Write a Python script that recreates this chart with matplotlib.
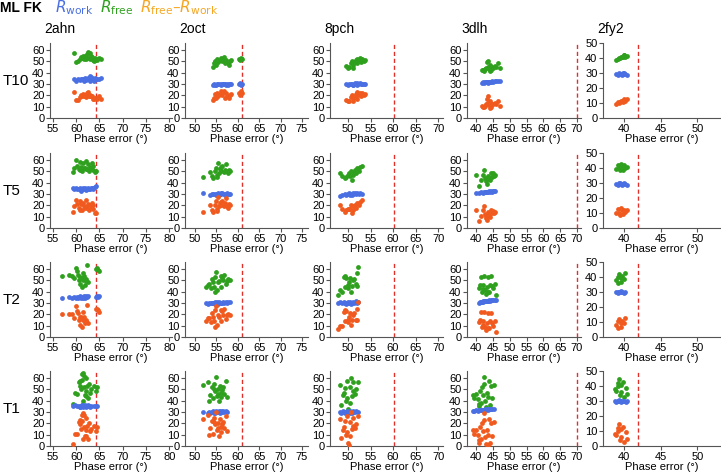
import numpy as np
import matplotlib
matplotlib.use("Agg")
from matplotlib import pyplot as plt

plt.rcParams['font.family'] = ['Liberation Sans', 'DejaVu Sans']

proteins = ['2ahn', '2oct', '8pch', '3dlh', '2fy2']
rows = ['T10', 'T5', 'T2', 'T1']
cutoff = [64.2, 61.0, 60.3, 70.0, 42.0]      # dashed line, phase error
xticks = [[55, 60, 65, 70, 75, 80], [50, 55, 60, 65, 70, 75], [50, 55, 60, 65, 70],
          [40, 45, 50, 55, 60, 65, 70], [40, 45, 50]]
yticks = [[0, 10, 20, 30, 40, 50, 60]] * 4 + [[0, 10, 20, 30, 40, 50]]

# ---- 2ahn ----
x_2ahn_t10 = [59.6, 60.0, 60.3, 60.8, 61.0, 61.3, 61.6, 61.8, 62.0, 62.2, 62.4, 62.6, 62.8, 63.0, 63.2, 63.4, 63.6, 63.8, 64.0, 64.2, 64.5, 65.0, 65.4, 61.4, 62.9]
rw_2ahn_t10 = [34, 33, 34, 33.5, 34, 34, 33, 35, 34, 33.5, 34, 35, 34, 33, 36, 35, 34, 33, 35, 34, 34, 34, 35, 34, 37]
rf_2ahn_t10 = [57, 49, 50, 52, 54, 53, 52, 55, 54, 52, 56, 58, 53, 52, 55, 54, 51, 50, 53, 52, 51, 53, 52, 55, 57]
x_2ahn_t5 = [59.2, 59.6, 60.0, 60.2, 60.5, 60.8, 61.0, 61.2, 61.5, 61.7, 62.0, 62.2, 62.5, 62.7, 63.0, 63.2, 63.5, 63.7, 64.0, 64.3, 60.9, 61.9, 62.4, 63.3]
rw_2ahn_t5 = [35, 34, 35, 34, 34.5, 35, 33, 34, 35, 34, 34, 33.5, 35, 34, 34, 35, 34, 35, 36, 37, 34, 35, 34, 35]
rf_2ahn_t5 = [49, 53, 60, 55, 52, 51, 54, 50, 57, 53, 59, 52, 56, 50, 54, 53, 51, 55, 49, 50, 58, 53, 52, 57]
x_2ahn_t2 = [57.0, 58.5, 59.0, 59.5, 60.0, 60.2, 60.4, 60.6, 60.8, 61.0, 61.2, 61.4, 61.6, 61.8, 62.0, 62.2, 62.4, 62.5, 61.5, 60.9, 64.3, 64.6, 65.0, 64.5]
rw_2ahn_t2 = [34, 35, 34, 35, 34, 35, 34, 35, 36, 34, 35, 35, 36, 34, 35, 36, 35, 36, 34, 35, 35, 35, 36, 36]
rf_2ahn_t2 = [54, 55, 54, 52, 61, 58, 55, 50, 47, 52, 44, 50, 54, 46, 49, 51, 63, 48, 56, 53, 60, 59, 58, 61]
x_2ahn_t1 = [59.3, 59.8, 60.2, 60.5, 60.8, 61.0, 61.2, 61.4, 61.5, 61.6, 61.8, 62.0, 62.2, 62.4, 62.6, 62.8, 63.0, 63.2, 61.3, 60.9, 62.1, 63.8, 64.2, 64.4, 61.7]
rw_2ahn_t1 = [35, 36, 35, 35, 34, 35, 36, 35, 34, 35, 36, 35, 34, 35, 36, 35, 34, 35, 36, 34, 35, 35, 35, 35, 35]
rf_2ahn_t1 = [37, 47, 46, 56, 57, 50, 63, 64, 40, 52, 45, 60, 48, 53, 42, 55, 47, 50, 58, 53, 44, 53, 48, 52, 62]

# ---- 2oct ----
x_2oct_t10 = [54.2, 54.5, 54.8, 55.2, 55.5, 55.8, 56.0, 56.3, 56.6, 56.9, 57.2, 57.5, 57.8, 58.2, 58.5, 60.2, 60.5, 60.8, 61.1, 55.0, 57.0, 58.0]
rw_2oct_t10 = [29, 30, 29, 30, 29.5, 30, 29, 30, 29.5, 30, 29, 30, 29, 30, 29.5, 30, 31, 29, 30, 29, 30, 29.5]
rf_2oct_t10 = [45, 48, 50, 52, 49, 51, 53, 50, 52, 54, 51, 49, 48, 50, 51, 52, 51, 53, 52, 47, 48, 47]
x_2oct_t5 = [52.0, 53.5, 54.0, 54.3, 54.6, 55.0, 55.2, 55.4, 55.6, 55.9, 56.2, 56.4, 56.7, 57.0, 57.2, 57.5, 57.8, 58.0, 58.3, 56.0, 55.1]
rw_2oct_t5 = [30.5, 29, 30, 29.5, 30, 29, 30, 30.5, 29, 30, 29.5, 31, 30, 29, 30, 31, 30, 29.5, 30, 31, 30]
rf_2oct_t5 = [44.5, 49, 46, 44, 50, 53, 47, 57.5, 48, 52, 50, 55, 49, 51, 56, 50, 48, 51, 50, 54, 45]
x_2oct_t2 = [52.7, 53.0, 53.3, 53.7, 54.0, 54.3, 54.6, 54.8, 55.0, 55.2, 55.5, 55.7, 56.0, 56.3, 56.6, 56.9, 57.2, 57.5, 57.8, 58.2, 54.5, 56.0]
rw_2oct_t2 = [30, 29, 30, 29.5, 30, 30, 29, 31, 30, 30.5, 29, 31, 30, 29.5, 31, 30, 31, 30, 31, 31, 30, 30]
rf_2oct_t2 = [44, 46, 47, 43, 51, 48, 53, 40, 57, 41, 48, 49, 54, 52, 50, 55, 47, 49, 51, 50, 44, 44]
x_2oct_t1 = [52.0, 53.0, 53.3, 53.6, 54.0, 54.2, 54.5, 54.7, 55.0, 55.2, 55.4, 55.6, 55.8, 56.0, 56.2, 56.4, 56.6, 56.9, 57.2, 57.5, 54.4, 55.3]
rw_2oct_t1 = [30, 29, 30, 29, 30, 31, 30, 29, 31, 30, 30, 31, 29, 30, 31, 30, 31, 30, 31, 30, 29, 30]
rf_2oct_t1 = [54, 56, 40, 45, 52, 42, 55, 48, 61, 44, 50, 40, 53, 47, 43, 49, 52, 46, 57, 43, 50, 46]

# ---- 8pch ----
x_8pch_t10 = [49.6, 50.0, 50.3, 50.6, 50.9, 51.2, 51.5, 51.8, 52.0, 52.3, 52.6, 52.9, 53.2, 53.5, 53.8, 51.0, 52.1, 53.0]
rw_8pch_t10 = [30, 29, 30, 29.5, 30, 29, 30.5, 30, 29, 30, 31, 30, 29.5, 30, 30, 29, 31, 30]
rf_8pch_t10 = [46, 44, 45, 48, 50, 47, 49, 51, 52, 50, 53, 49, 51, 50, 51, 44, 48, 52]
x_8pch_t5 = [48.2, 48.7, 49.3, 49.6, 50.0, 50.3, 50.6, 50.9, 51.2, 51.5, 51.8, 52.1, 52.4, 52.7, 53.0, 50.5, 51.0]
rw_8pch_t5 = [28, 29, 30, 29, 30, 31, 30, 29, 30, 31, 30, 31, 30, 31, 30, 29, 31]
rf_8pch_t5 = [48, 46, 44, 45, 47, 48, 50, 42, 49, 51, 48, 53, 50, 54, 55, 46, 47]
x_8pch_t2 = [47.8, 48.2, 48.6, 49.0, 49.3, 49.6, 49.9, 50.2, 50.5, 50.8, 51.1, 51.4, 51.7, 52.0, 52.3, 50.0, 50.7, 51.9, 49.4]
rw_8pch_t2 = [30, 31, 30, 31, 30, 29, 31, 30, 31, 30, 31, 30, 32, 30, 31, 30, 29, 31, 30]
rf_8pch_t2 = [37, 41, 40, 53, 44, 52, 46, 48, 52, 45, 50, 51, 47, 45, 62, 43, 40, 56, 54]
x_8pch_t1 = [48.3, 48.5, 48.8, 49.0, 49.3, 49.5, 49.8, 50.0, 50.2, 50.4, 50.6, 50.8, 51.0, 51.2, 51.5, 51.8, 52.2, 49.7, 50.5]
rw_8pch_t1 = [30, 29, 31, 30, 29, 30, 31, 30, 30, 31, 30, 29, 30, 31, 30, 31, 30, 30, 29]
rf_8pch_t1 = [54, 36, 45, 47, 51, 40, 57, 33, 31, 52, 60, 44, 48, 56, 46, 50, 56, 42, 38]

# ---- 3dlh ----
x_3dlh_t10 = [41.8, 42.1, 42.4, 42.7, 43.0, 43.3, 43.6, 43.9, 44.2, 44.5, 44.8, 45.1, 45.5, 46.0, 46.5, 47.0, 43.5, 44.0]
rw_3dlh_t10 = [31, 32, 31, 32, 31.5, 32, 32, 31.5, 32, 32, 32.5, 32, 33, 33, 33, 33, 31, 32]
rf_3dlh_t10 = [42, 42, 41, 43, 44, 49, 45, 43, 47, 42, 45, 44, 46, 45, 48, 44, 50, 41]
x_3dlh_t5 = [40.0, 41.0, 41.5, 42.0, 42.3, 42.6, 42.9, 43.2, 43.5, 43.8, 44.1, 44.4, 44.7, 45.0, 45.3, 45.7, 43.0]
rw_3dlh_t5 = [31, 31, 31.5, 31, 32, 31.5, 32, 32, 32, 32.5, 32, 32.5, 32, 33, 33, 33, 32]
rf_3dlh_t5 = [47, 37, 42, 47, 51, 44, 43, 39, 46, 44, 42, 48, 45, 48, 46, 47, 41]
x_3dlh_t2 = [41.0, 41.3, 41.6, 41.9, 42.2, 42.5, 42.8, 43.0, 43.3, 43.6, 43.9, 44.2, 44.5, 44.8, 45.1, 45.5, 46.0, 42.0, 43.5]
rw_3dlh_t2 = [30, 31, 31, 31, 31.5, 32, 32, 31.5, 32, 32, 32.5, 32, 33, 33, 33, 33, 33, 31, 32]
rf_3dlh_t2 = [43, 46, 53, 40, 46, 54, 41, 38, 44, 53, 40, 46, 54, 45, 43, 47, 37, 42, 40]
x_3dlh_t1 = [39.0, 39.5, 40.0, 40.5, 40.8, 41.2, 41.5, 41.8, 42.0, 42.3, 42.5, 42.8, 43.0, 43.3, 43.6, 43.9, 44.2, 44.5, 44.8, 45.2, 41.0, 43.5]
rw_3dlh_t1 = [31, 31, 31.5, 31, 32, 31.5, 32, 32, 32, 32, 32, 32.5, 32, 32.5, 33, 33, 33, 33, 33, 33, 31.5, 32]
rf_3dlh_t1 = [45, 42, 46, 41, 35, 48, 38, 52, 45, 55, 61, 40, 34, 47, 43, 57, 36, 53, 42, 54, 37, 33]

# ---- 2fy2 ----
x_2fy2_t10 = [39.0, 39.2, 39.4, 39.6, 39.8, 40.0, 40.2, 40.4, 39.5, 39.9, 40.1]
rw_2fy2_t10 = [29.5, 29, 30, 29.5, 29, 30, 29.5, 29, 29.5, 30, 29.5]
rf_2fy2_t10 = [39, 39.5, 40, 41, 40.5, 42, 41, 41.5, 40, 41, 42]
x_2fy2_t5 = [39.0, 39.2, 39.4, 39.6, 39.8, 40.0, 40.2, 40.4, 39.5, 39.9]
rw_2fy2_t5 = [29.5, 29, 30, 29.5, 29, 30, 29.5, 29, 30, 29.5]
rf_2fy2_t5 = [39.5, 42, 40, 43, 41, 42, 40, 41, 38.5, 39]
x_2fy2_t2 = [39.0, 39.2, 39.4, 39.6, 39.8, 40.0, 40.2, 39.3, 39.7]
rw_2fy2_t2 = [30, 29.5, 30, 30.5, 30, 29.5, 30, 30, 30]
rf_2fy2_t2 = [38, 40, 42, 37, 41, 39, 43, 36, 39.5]
x_2fy2_t1 = [38.8, 39.0, 39.2, 39.4, 39.5, 39.7, 39.9, 40.1, 40.3, 40.5, 39.3, 39.6]
rw_2fy2_t1 = [30, 29.5, 30, 30.5, 30, 29.5, 30, 30, 29.5, 30, 30, 30]
rf_2fy2_t1 = [38, 37, 40, 45, 34, 41, 43, 33, 39, 35, 42, 36]

g = globals()
c_work, c_free, c_diff, c_legdiff = '#4a6fe3', '#2ea01e', '#f05a1e', '#f5a623'

fig = plt.figure(figsize=(7.21, 4.74), dpi=100)
W, H = 721, 474
col_left = [50, 185, 330, 467, 603]
col_right = [172, 308, 443, 581, 721]
xlims = [(54.35, 80.6), (47.7, 76.4), (46.0, 71.1), (37.3, 71.2), (37.2, 53.2)]
row_bottom = [118, 228, 337, 446]
ax_h = 75

for r, rname in enumerate(rows):
    for c, p in enumerate(proteins):
        ax = fig.add_axes([col_left[c] / W, 1 - row_bottom[r] / H,
                           (col_right[c] - col_left[c]) / W, ax_h / H])
        key = p + '_' + rname.lower()
        x = np.array(g['x_' + key])
        rw = np.array(g['rw_' + key])
        rf = np.array(g['rf_' + key])
        ax.scatter(x, rf, s=12, color=c_free, lw=0, zorder=3)
        ax.scatter(x, rw, s=12, color=c_work, lw=0, zorder=3)
        ax.scatter(x, rf - rw, s=12, color=c_diff, lw=0, zorder=3)
        ax.axvline(cutoff[c], color='#e0302a', ls=(0, (3, 2)), lw=1)
        ax.set_xlim(*xlims[c])
        ax.set_ylim(0, 50 if c == 4 else 66)
        ax.set_xticks(xticks[c])
        ax.set_yticks(yticks[c])
        for s in ['top', 'right']:
            ax.spines[s].set_visible(False)
        for s in ['left', 'bottom']:
            ax.spines[s].set_color('#555555')
            ax.spines[s].set_linewidth(0.8)
        ax.tick_params(labelsize=8, length=3, width=0.8, pad=1, colors='#555555', labelcolor='black')
        ax.set_xlabel('Phase error (°)', fontsize=8, labelpad=0)
        if r == 0:
            fig.text((col_left[c] - 6) / W, 1 - 29 / H, p, fontsize=10, va='center', ha='left')
    fig.text(3 / W, 1 - (row_bottom[r] - 37) / H, rname, fontsize=11, va='center', ha='left')

fig.text(0 / W, 1 - 8 / H, 'ML FK', fontsize=10, fontweight='bold', va='center')
fig.text(55 / W, 1 - 8 / H, r'$R_{\rm work}$', fontsize=11, color=c_work, va='center')
fig.text(100 / W, 1 - 8 / H, r'$R_{\rm free}$', fontsize=11, color=c_free, va='center')
fig.text(140 / W, 1 - 8 / H, r'$R_{\rm free}$–$R_{\rm work}$', fontsize=11, color=c_legdiff, va='center')

fig.savefig('out.png', dpi=100)
